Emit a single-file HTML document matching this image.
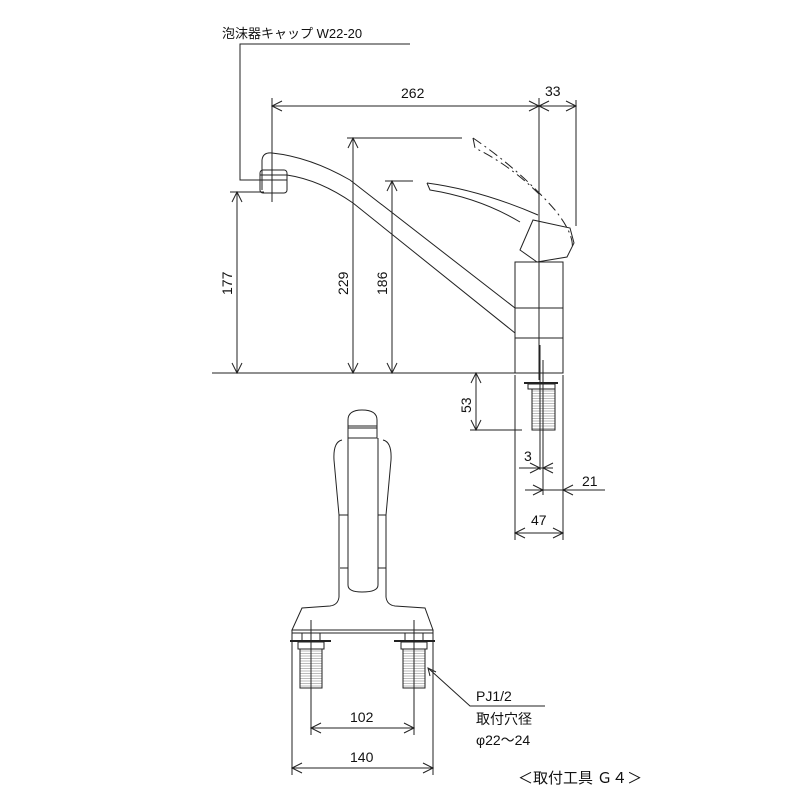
<!DOCTYPE html>
<html><head><meta charset="utf-8"><style>
html,body{margin:0;padding:0;background:#fff;}
svg{display:block}
text{font-family:"Liberation Sans","Noto Sans CJK JP",sans-serif;fill:#111;}
</style></head><body>
<svg width="800" height="800" viewBox="0 0 800 800" xmlns="http://www.w3.org/2000/svg">
<defs>
<pattern id="thr" width="4" height="2.5" patternUnits="userSpaceOnUse"><rect width="4" height="2.5" fill="#fff"/><line x1="0" y1="1" x2="4" y2="1" stroke="#aaa" stroke-width="0.8"/></pattern>
</defs>
<g fill="none" stroke="#222" stroke-width="1">
<polyline points="410,44 240,44 240,180 264,180"/>
<line x1="272" y1="98" x2="272" y2="202"/>
<line x1="539" y1="98" x2="539" y2="380"/>
<line x1="576" y1="100" x2="576" y2="226"/>
<line x1="272" y1="106" x2="539" y2="106"/>
<line x1="539" y1="106" x2="576" y2="106"/>
<polyline points="282,101 272,106 282,111"/>
<polyline points="529,101 539,106 529,111"/>
<polyline points="549,101 539,106 549,111"/>
<polyline points="566,101 576,106 566,111"/>
<line x1="212" y1="373" x2="563" y2="373"/>
<line x1="230" y1="192" x2="264" y2="192"/>
<line x1="237" y1="192" x2="237" y2="373"/>
<polyline points="232,202 237,192 242,202"/><polyline points="232,363 237,373 242,363"/>
<line x1="347" y1="138" x2="462" y2="138"/>
<line x1="353" y1="138" x2="353" y2="373"/>
<polyline points="348,148 353,138 358,148"/><polyline points="348,363 353,373 358,363"/>
<line x1="385" y1="181" x2="413" y2="181"/>
<line x1="392" y1="181" x2="392" y2="373"/>
<polyline points="387,191 392,181 397,191"/><polyline points="387,363 392,373 397,363"/>
<path d="M262,190 L262,160 Q263,152 272,153 Q310,157 350,180 L515,308"/>
<path d="M287,175 Q320,180 353,203 L515,333"/>
<rect x="260" y="170" width="27" height="23" rx="3"/>
<line x1="260" y1="175" x2="287" y2="175"/><line x1="260" y1="180" x2="287" y2="180"/>
<rect x="515" y="262" width="48" height="111"/>
<line x1="515" y1="308" x2="563" y2="308"/><line x1="515" y1="338" x2="563" y2="338"/>
<path d="M520,250 L533,220 L570,228 L574,243 L567,257 L537,262 Z"/>
<path d="M427,183 Q480,190 538,215"/>
<path d="M427,183 L430,190 Q480,198 520,222"/>
<path d="M473,138 L475,148 Q510,165 540,195" stroke-dasharray="10,4,2,4"/>
<path d="M473,138 Q520,170 555,210 Q575,235 572,250" stroke-dasharray="10,4,2,4"/>
<line x1="524" y1="383" x2="558" y2="383" stroke-width="2"/>
<rect x="528" y="384" width="27" height="5"/>
<rect x="532" y="389" width="23" height="41" fill="url(#thr)"/>
<line x1="540" y1="345" x2="540" y2="470"/>
<line x1="543" y1="360" x2="543" y2="495"/>
<line x1="476" y1="373" x2="476" y2="430"/>
<line x1="470" y1="430" x2="522" y2="430"/>
<polyline points="471,383 476,373 481,383"/><polyline points="471,420 476,430 481,420"/>
<line x1="515" y1="375" x2="515" y2="540"/><line x1="563" y1="375" x2="563" y2="540"/>
<line x1="519" y1="468" x2="553" y2="468"/>
<polyline points="530,463 540,468 530,473"/><polyline points="553,463 543,468 553,473"/>
<line x1="525" y1="490" x2="605" y2="490"/>
<polyline points="533,485 543,490 533,495"/><polyline points="573,485 563,490 573,495"/>
<line x1="515" y1="533" x2="563" y2="533"/>
<polyline points="525,528 515,533 525,538"/><polyline points="553,528 563,533 553,538"/>
<path d="M348,428 L348,420 Q348,410 362,410 Q377,410 377,420 L377,428 Z"/>
<rect x="348" y="426" width="29" height="12"/>
<path d="M342,440 Q333,442 334,460 L339,515 L339,597"/>
<path d="M383,440 Q392,442 391,460 L386,515 L386,597"/>
<path d="M348,438 L348,585 Q348,592 362,592 Q378,592 378,585 L378,438"/>
<line x1="339" y1="515" x2="348" y2="515"/><line x1="378" y1="515" x2="386" y2="515"/>
<line x1="340" y1="568" x2="348" y2="568"/><line x1="378" y1="568" x2="386" y2="568"/>
<path d="M339,597 Q338,605 330,606 L302,608 L292,630 L433,630 L425,608 L395,606 Q387,605 386,597"/>
<rect x="292" y="630" width="141" height="3"/>
<line x1="290" y1="641" x2="331" y2="641" stroke-width="2"/>
<line x1="394" y1="641" x2="435" y2="641" stroke-width="2"/>
<rect x="302" y="633" width="18" height="8"/>
<rect x="405" y="633" width="18" height="8"/>
<rect x="298" y="642" width="26" height="7"/>
<rect x="401" y="642" width="26" height="7"/>
<rect x="300" y="649" width="22" height="39" fill="url(#thr)"/>
<rect x="403" y="649" width="22" height="39" fill="url(#thr)"/>
<line x1="311" y1="620" x2="311" y2="735"/><line x1="414" y1="620" x2="414" y2="735"/>
<line x1="292" y1="630" x2="292" y2="775"/><line x1="433" y1="630" x2="433" y2="775"/>
<line x1="311" y1="728" x2="414" y2="728"/>
<polyline points="321,723 311,728 321,733"/><polyline points="404,723 414,728 404,733"/>
<line x1="292" y1="768" x2="433" y2="768"/>
<polyline points="302,763 292,768 302,773"/><polyline points="423,763 433,768 423,773"/>
<polyline points="428,668 470,706 545,706"/>
<polyline points="430,676 428,668 436,672"/>
</g>
<g font-size="14">
<text x="222" y="38" font-size="13">泡沫器キャップ W22-20</text>
<text x="401" y="98">262</text>
<text x="545" y="96">33</text>
<text x="524" y="461">3</text>
<text x="582" y="486">21</text>
<text x="531" y="525">47</text>
<text x="350" y="722">102</text>
<text x="350" y="762">140</text>
<text x="476" y="701">PJ1/2</text>
<text x="476" y="724">取付穴径</text>
<text x="476" y="745">φ22～24</text>
<text x="518" y="783" font-size="15">＜取付工具 Ｇ４＞</text>
<text transform="translate(232,295) rotate(-90)">177</text>
<text transform="translate(348,295) rotate(-90)">229</text>
<text transform="translate(387,295) rotate(-90)">186</text>
<text transform="translate(471,413) rotate(-90)">53</text>
</g>
</svg>
</body></html>
